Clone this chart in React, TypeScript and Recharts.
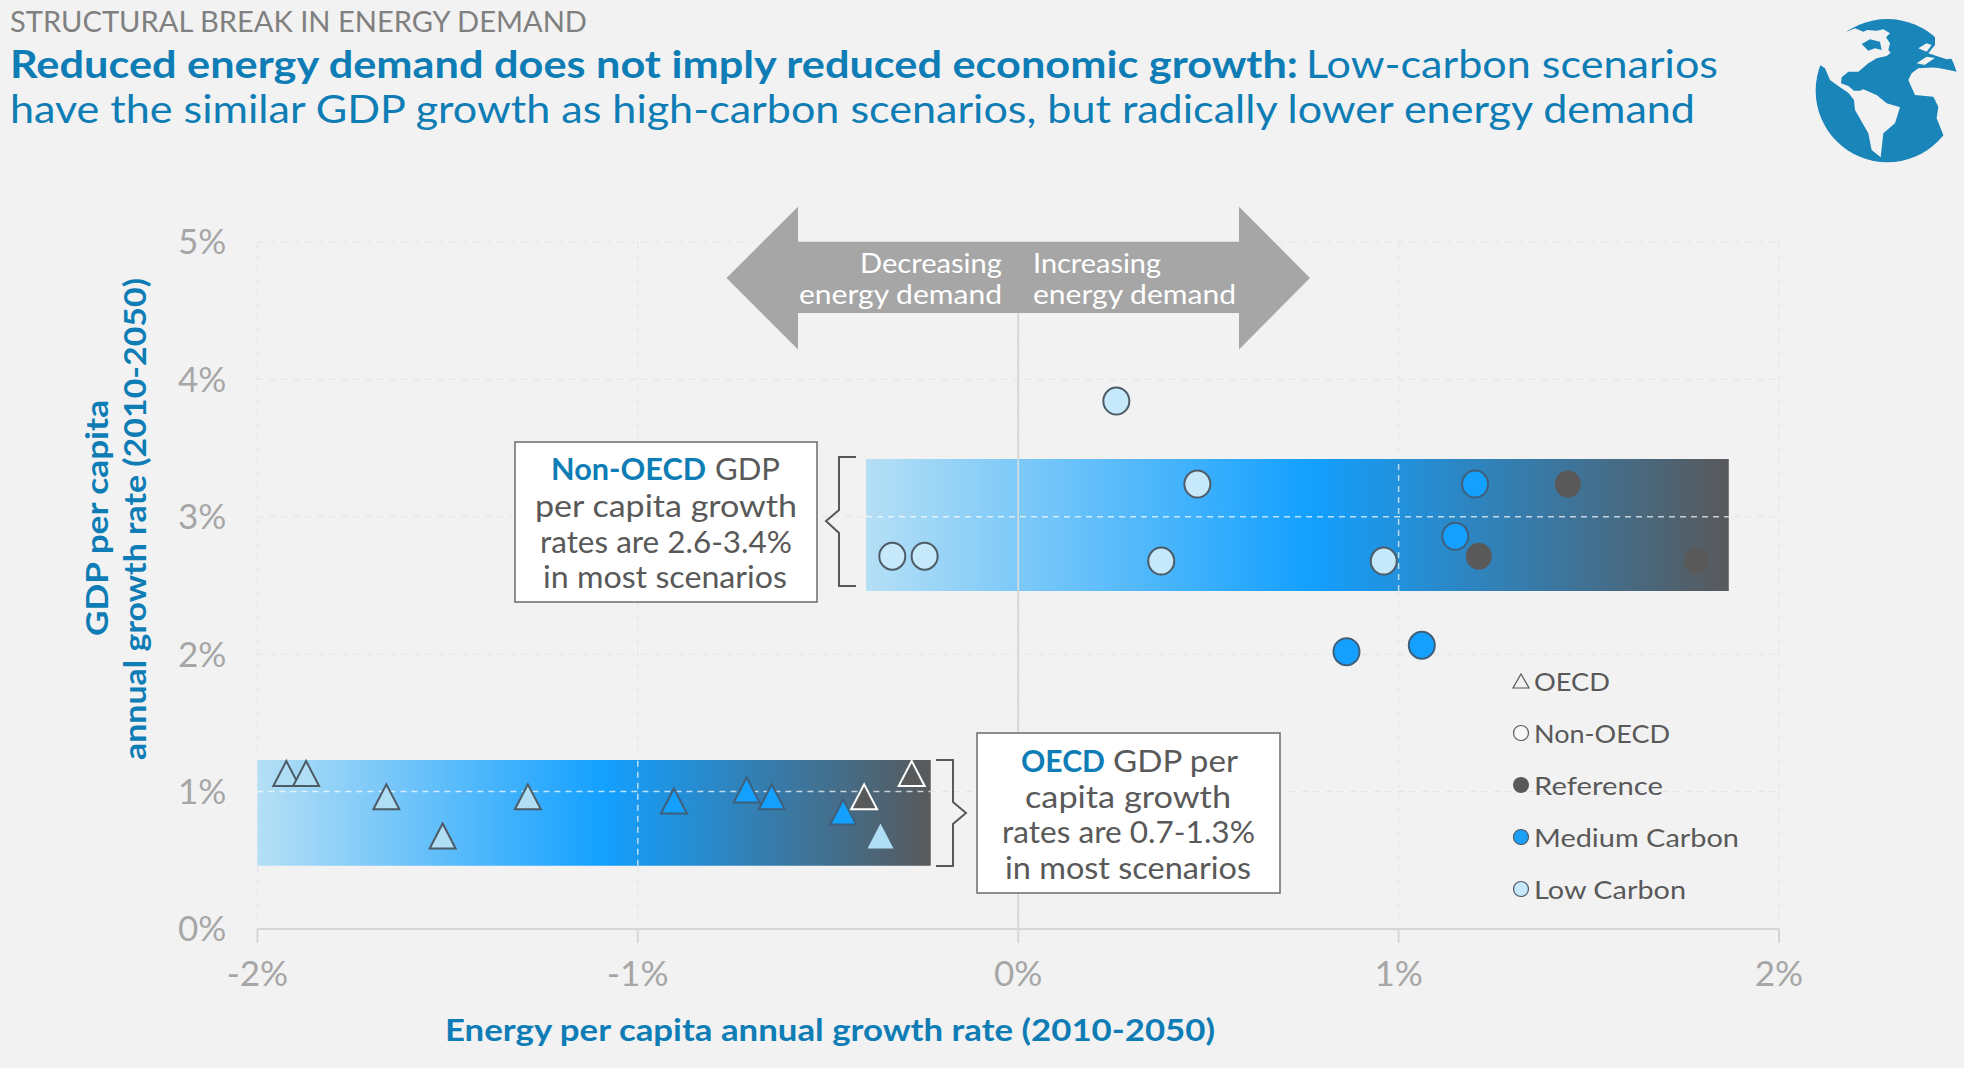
import React from "react";
import { ScatterChart, Scatter, XAxis, YAxis, CartesianGrid, ReferenceArea, ReferenceLine } from "recharts";

const FONT = "Lato, 'Open Sans', sans-serif";
const BG = "#f2f2f2";
const BLUE = "#0f7db5";
const GREY = "#595959";
const AXIS = "#a6a6a6";

const xTicks = [-2, -1, 0, 1, 2];
const yTicks = [0, 1, 2, 3, 4, 5];

const oecdLow = [
  { x: -1.924, y: 1.128 }, { x: -1.872, y: 1.128 }, { x: -1.661, y: 0.958 },
  { x: -1.289, y: 0.958 }, { x: -1.513, y: 0.673 },
];
const oecdMedium = [
  { x: -0.905, y: 0.928 }, { x: -0.714, y: 1.008 }, { x: -0.648, y: 0.958 }, { x: -0.46, y: 0.848 },
];
const oecdReference = [{ x: -0.405, y: 0.958 }, { x: -0.28, y: 1.128 }];
const oecdLowPlain = [{ x: -0.362, y: 0.673 }];

const nonOecdLow = [
  { x: 0.258, y: 3.842 }, { x: 0.471, y: 3.238 }, { x: 0.376, y: 2.678 },
  { x: 0.961, y: 2.678 }, { x: -0.331, y: 2.713 }, { x: -0.246, y: 2.713 },
];
const nonOecdMedium = [
  { x: 1.201, y: 3.238 }, { x: 1.149, y: 2.858 }, { x: 0.863, y: 2.018 }, { x: 1.061, y: 2.065 },
];
const nonOecdReference = [{ x: 1.445, y: 3.238 }, { x: 1.211, y: 2.713 }, { x: 1.784, y: 2.678 }];

const nonOecdBand = { x1: -0.4, x2: 1.868, y1: 2.46, y2: 3.42 };
const oecdBand = { x1: -2, x2: -0.23, y1: 0.46, y2: 1.23 };

const tri = (fill: string, stroke: string) => (p: any) => {
  const { cx, cy } = p;
  return <polygon points={`${cx},${cy - 13} ${cx + 13},${cy + 12} ${cx - 13},${cy + 12}`} fill={fill} stroke={stroke} strokeWidth={2} />;
};
const circ = (fill: string, stroke: string) => (p: any) => (
  <ellipse cx={p.cx} cy={p.cy} rx={13} ry={13.5} fill={fill} stroke={stroke} strokeWidth={stroke === "none" ? 0 : 2} />
);

function T({ x, y, w, size, fill = GREY, bold = false, children, transform }: any) {
  return (
    <text x={x} y={y} textLength={w} lengthAdjust="spacingAndGlyphs" fontSize={size} fill={fill}
      fontWeight={bold ? 700 : 400} fontFamily={FONT} dominantBaseline="central" transform={transform}>
      {children}
    </text>
  );
}

function Overlay() {
  const legend = [
    { y: 680.5, w: 76, label: "OECD" },
    { y: 732.5, w: 136, label: "Non-OECD" },
    { y: 784.5, w: 129, label: "Reference" },
    { y: 836.5, w: 205, label: "Medium Carbon" },
    { y: 888.5, w: 152, label: "Low Carbon" },
  ];
  return (
    <svg width={1964} height={1068} style={{ position: "absolute", left: 0, top: 0, pointerEvents: "none" }}>
      <T x={10} y={20} w={577} size={29} fill="#808080">STRUCTURAL BREAK IN ENERGY DEMAND</T>
      <T x={10} y={62.5} w={1288} size={38} fill={BLUE} bold>Reduced energy demand does not imply reduced economic growth:</T>
      <T x={1306} y={62.5} w={412} size={38} fill={BLUE}>Low-carbon scenarios</T>
      <T x={10} y={107.5} w={1685} size={38} fill={BLUE}>have the similar GDP growth as high-carbon scenarios, but radically lower energy demand</T>

      <g transform="translate(1780,0) scale(0.3333)">
        <circle cx={322} cy={272} r={215} fill="#1a85b8" />
        <path fill={BG} d="M90,60 L200,60 L200,95 L225,85 L250,95 L262,90 L290,92 L310,88 L330,100 L318,112 L330,130 L325,150 L332,158 L320,168 L290,175 L265,190 L235,215 L205,215 L185,232 L183,250 L205,258 L222,272 L240,272 L250,268 L290,285 L320,310 L360,322 L345,370 L310,400 L302,472 L275,450 L265,400 L225,330 L222,300 L205,278 L180,262 L150,240 L135,205 L120,195 L90,200 Z" />
        <path fill="#1a85b8" d="M245,132 L270,118 L300,125 L305,150 L285,145 L265,152 Z" />
        <path fill={BG} d="M385,240 L395,220 L415,205 L470,202 L530,215 L570,215 L570,420 L490,405 L470,355 L475,320 L460,290 L405,285 Z" />
        <path fill={BG} d="M410,190 L440,170 L470,175 L435,195 Z M415,145 L440,130 L455,135 L440,155 Z M465,105 L570,60 L570,170 L500,178 L470,168 L445,160 L465,135 Z" />
        <path fill="#1a85b8" d="M430,198 L470,170 L500,185 L530,212 L480,205 Z" />
      </g>

      <polygon fill="#a6a6a6" points="726.5,278 798,206.7 798,241.7 1239,241.7 1239,206.7 1310,278 1239,349.5 1239,313 798,313 798,349.5" />
      <T x={860} y={262.5} w={142} size={27} fill="#ffffff">Decreasing</T>
      <T x={799} y={293.5} w={203} size={27} fill="#ffffff">energy demand</T>
      <T x={1033} y={262.5} w={128} size={27} fill="#ffffff">Increasing</T>
      <T x={1033} y={293.5} w={203} size={27} fill="#ffffff">energy demand</T>

      <rect x={515} y={442} width={302} height={160} fill="#ffffff" stroke="#6b6b6b" strokeWidth={1.5} />
      <T x={551} y={468} w={155} size={31} fill={BLUE} bold>Non-OECD</T>
      <T x={715} y={468} w={65} size={31}>GDP</T>
      <T x={535} y={504.5} w={262} size={31}>per capita growth</T>
      <T x={540} y={540.5} w={252} size={31}>rates are 2.6-3.4%</T>
      <T x={543} y={575.5} w={244} size={31}>in most scenarios</T>
      <path d="M856,457 H839 V510 L826,521 L839,533 V586 H856" fill="none" stroke="#595959" strokeWidth={2} />

      <rect x={977} y={733} width={303} height={160} fill="#ffffff" stroke="#6b6b6b" strokeWidth={1.5} />
      <T x={1021} y={759.5} w={84} size={31} fill={BLUE} bold>OECD</T>
      <T x={1113} y={759.5} w={125} size={31}>GDP per</T>
      <T x={1025} y={795.5} w={206} size={31}>capita growth</T>
      <T x={1002} y={830.5} w={253} size={31}>rates are 0.7-1.3%</T>
      <T x={1005} y={866.5} w={246} size={31}>in most scenarios</T>
      <path d="M936,760 H953 V802 L966,813 L953,824 V866 H936" fill="none" stroke="#595959" strokeWidth={2} />

      <polygon points="1521,674 1529,688 1513,688" fill="none" stroke="#595959" strokeWidth={1.2} />
      <circle cx={1521} cy={733} r={7.5} fill="#f7f7f7" stroke="#595959" strokeWidth={1.2} />
      <circle cx={1521} cy={785} r={8} fill="#595959" />
      <circle cx={1521} cy={837} r={7.5} fill="#1aa0f5" stroke="#4a5a68" strokeWidth={1.2} />
      <circle cx={1521} cy={889} r={7.5} fill="#c5e8fb" stroke="#4a5a68" strokeWidth={1.2} />
      {legend.map((l) => (
        <T key={l.label} x={1534} y={l.y} w={l.w} size={25}>{l.label}</T>
      ))}

      <T x={445} y={1028.5} w={770} size={30} fill={BLUE} bold>Energy per capita annual growth rate (2010-2050)</T>
      <T x={0} y={0} w={236} size={30} fill={BLUE} bold transform="translate(96,636) rotate(-90)">GDP per capita</T>
      <T x={0} y={0} w={482} size={30} fill={BLUE} bold transform="translate(134,760) rotate(-90)">annual growth rate (2010-2050)</T>
    </svg>
  );
}

export default function App() {
  const tickStyle = { fontSize: 35, fill: AXIS, fontFamily: FONT };
  const fmt = (v: number) => `${v}%`;
  const whiteDash = { stroke: "#ffffff", strokeOpacity: 0.7, strokeDasharray: "6 5", strokeWidth: 1.5 };
  return (
    <div style={{ position: "absolute", left: 0, top: 0, width: 1964, height: 1068, background: BG, overflow: "hidden" }}>
      <ScatterChart width={1964} height={1068} margin={{ top: 242, right: 185, bottom: 79, left: 17.4 }}>
        <defs>
          <linearGradient id="band" x1="0" y1="0" x2="1" y2="0">
            <stop offset="0" stopColor="#b5dff5" />
            <stop offset="0.515" stopColor="#13a0ff" />
            <stop offset="1" stopColor="#58595b" />
          </linearGradient>
        </defs>
        <CartesianGrid stroke="#e4e4e4" strokeDasharray="6 6" horizontalValues={yTicks} verticalValues={xTicks} />
        <XAxis type="number" dataKey="x" domain={[-2, 2]} ticks={xTicks} tickFormatter={fmt} height={60}
          tick={tickStyle} tickSize={14} tickMargin={18} interval={0} allowDataOverflow
          axisLine={{ stroke: "#d6d6d6", strokeWidth: 2 }} tickLine={{ stroke: "#d6d6d6", strokeWidth: 2 }} />
        <YAxis type="number" dataKey="y" domain={[0, 5]} ticks={yTicks} tickFormatter={fmt} width={240}
          tick={tickStyle} tickSize={0} tickMargin={31} interval={0} axisLine={false} tickLine={false} />
        <ReferenceLine x={0} stroke="#d0d0d0" strokeWidth={1.5} />
        <ReferenceArea {...nonOecdBand} fill="url(#band)" fillOpacity={1} stroke="none" />
        <ReferenceArea {...oecdBand} fill="url(#band)" fillOpacity={1} stroke="none" />
        <ReferenceLine segment={[{ x: nonOecdBand.x1, y: 3 }, { x: nonOecdBand.x2, y: 3 }]} {...whiteDash} />
        <ReferenceLine segment={[{ x: 1, y: nonOecdBand.y1 }, { x: 1, y: nonOecdBand.y2 }]} {...whiteDash} />
        <ReferenceLine segment={[{ x: 0, y: nonOecdBand.y1 }, { x: 0, y: nonOecdBand.y2 }]} stroke="#ffffff" strokeOpacity={0.45} strokeWidth={1} />
        <ReferenceLine segment={[{ x: oecdBand.x1, y: 1 }, { x: oecdBand.x2, y: 1 }]} {...whiteDash} />
        <ReferenceLine segment={[{ x: -1, y: oecdBand.y1 }, { x: -1, y: oecdBand.y2 }]} {...whiteDash} />
        <Scatter name="OECD Low" data={oecdLow} shape={tri("#b0dff5", "#4d5b66")} isAnimationActive={false} />
        <Scatter name="OECD Medium" data={oecdMedium} shape={tri("#13a0ff", "#3f5f7a")} isAnimationActive={false} />
        <Scatter name="OECD Reference" data={oecdReference} shape={tri("#58595b", "#ffffff")} isAnimationActive={false} />
        <Scatter name="OECD Low plain" data={oecdLowPlain} shape={tri("#b0dff5", "none")} isAnimationActive={false} />
        <Scatter name="Non-OECD Low" data={nonOecdLow} shape={circ("#c5e8fb", "#4d5b66")} isAnimationActive={false} />
        <Scatter name="Non-OECD Medium" data={nonOecdMedium} shape={circ("#13a0ff", "#3f5f7a")} isAnimationActive={false} />
        <Scatter name="Non-OECD Reference" data={nonOecdReference} shape={circ("#595959", "none")} isAnimationActive={false} />
      </ScatterChart>
      <Overlay />
    </div>
  );
}
